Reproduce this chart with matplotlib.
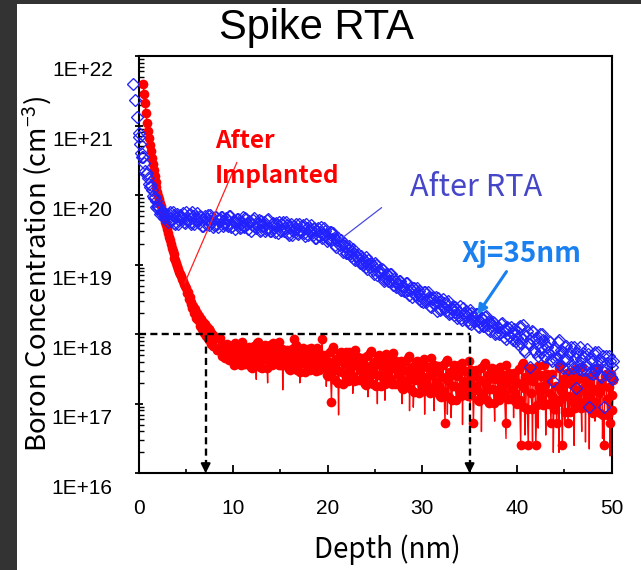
import numpy as np
import matplotlib
matplotlib.use("Agg")
import matplotlib.pyplot as plt
import matplotlib.patches as mpatches
from matplotlib import transforms as mtrans
from matplotlib.ticker import LogLocator, NullFormatter

plt.rcParams['font.family'] = ['Liberation Sans', 'DejaVu Sans']
plt.rcParams['mathtext.fontset'] = 'custom'
plt.rcParams['mathtext.rm'] = 'Noto Sans CJK JP'
plt.rcParams['mathtext.it'] = 'Noto Sans CJK JP'
plt.rcParams['mathtext.bf'] = 'Noto Sans CJK JP'
JP = ['Noto Sans CJK JP', 'DejaVu Sans']

# ---------------- data (log10 of boron concentration, cm^-3) ----------------
# After RTA (open diamonds), readings at -0.6 .. 50.2 nm (0.2 nm)
rta_depth_a = np.round(-0.6 + 0.2 * np.arange(255), 2)
rta_log10_a = [
    21.60, 21.37, 21.13, 20.90, 20.74, 20.55, 20.46, 20.31, 20.25, 20.12,
    20.08, 19.96, 19.92, 19.82, 19.81, 19.74, 19.74, 19.68, 19.71,
    19.73, 19.63, 19.76, 19.60, 19.69, 19.58, 19.72, 19.67, 19.61, 19.75,
    19.63, 19.73, 19.58, 19.70, 19.64, 19.74, 19.60, 19.68, 19.55, 19.70,
    19.65, 19.57, 19.71, 19.61, 19.57, 19.68, 19.54, 19.65, 19.69, 19.58,
    19.67, 19.57, 19.70, 19.54, 19.63, 19.51, 19.65, 19.60, 19.54, 19.68,
    19.56, 19.66, 19.51, 19.62, 19.57, 19.67, 19.52, 19.60, 19.48, 19.63,
    19.57, 19.49, 19.64, 19.53, 19.49, 19.60, 19.47, 19.57, 19.61, 19.50,
    19.59, 19.49, 19.62, 19.45, 19.54, 19.43, 19.56, 19.51, 19.45, 19.58,
    19.47, 19.57, 19.41, 19.53, 19.48, 19.57, 19.43, 19.51, 19.38, 19.53,
    19.47, 19.39, 19.53, 19.42, 19.37,
    19.47, 19.35, 19.45, 19.28, 19.35, 19.29, 19.35, 19.18, 19.27, 19.17,
    19.27, 19.16, 19.20, 19.08, 19.13, 19.15, 19.02, 19.09, 19.02, 19.11,
    18.94, 19.01, 19.03, 18.92, 19.02, 18.85, 18.92, 18.86, 18.93, 18.77,
    18.86, 18.76, 18.87, 18.76, 18.80, 18.68, 18.74, 18.76, 18.64, 18.70,
    18.64, 18.73, 18.57, 18.64, 18.67, 18.56, 18.66, 18.50, 18.57, 18.52,
    18.60, 18.47, 18.60, 18.40, 18.50, 18.44, 18.54, 18.34, 18.47, 18.36,
    18.50, 18.38, 18.43, 18.29, 18.37, 18.41, 18.27, 18.36, 18.28, 18.41,
    18.21, 18.31, 18.34, 18.21, 18.35, 18.15, 18.25, 18.19, 18.29, 18.10,
    18.23, 18.12, 18.25, 18.13, 18.19, 18.05, 18.13, 18.16, 18.02, 18.11,
    18.03, 18.16, 17.96, 18.06, 18.10, 17.97, 18.11, 17.91, 18.01, 17.95,
    18.10, 17.87, 18.13, 17.78, 17.97, 17.87, 17.53, 18.04, 17.77, 17.94,
    17.68, 18.01, 17.80, 17.91, 17.67, 17.82, 17.90, 17.65, 17.32, 17.80,
    17.67, 17.91, 17.56, 17.75, 17.65, 17.83, 17.50, 17.75, 17.56, 17.82,
    17.23, 17.73, 17.50, 17.65, 17.73, 17.48, 17.79, 16.96, 17.65, 17.43,
    17.71, 17.49, 17.75, 17.41, 17.60, 16.96, 17.69, 17.43, 17.61, 17.35,
    17.62,
]
# After RTA, interleaved readings at 0.1 .. 50.1 nm (0.2 nm)
rta_depth_b = np.round(0.1 + 0.2 * np.arange(251), 2)
rta_log10_b = [
    20.84, 20.60, 20.55, 20.35, 20.32, 20.16, 20.15, 19.98, 19.97, 19.83,
    19.84, 19.73, 19.77, 19.67, 19.73,
    19.62, 19.75, 19.66, 19.71, 19.58, 19.73, 19.64, 19.69, 19.74, 19.60,
    19.66, 19.71, 19.61, 19.75, 19.59, 19.68, 19.63, 19.70, 19.56, 19.65,
    19.59, 19.72, 19.62, 19.67, 19.54, 19.69, 19.59, 19.64, 19.69, 19.55,
    19.61, 19.66, 19.56, 19.70, 19.55, 19.63, 19.58, 19.65, 19.52, 19.61,
    19.54, 19.67, 19.58, 19.63, 19.49, 19.64, 19.54, 19.59, 19.64, 19.50,
    19.56, 19.61, 19.51, 19.65, 19.49, 19.58, 19.53, 19.60, 19.46, 19.55,
    19.49, 19.61, 19.52, 19.57, 19.43, 19.58, 19.49, 19.53, 19.58, 19.44,
    19.50, 19.55, 19.45, 19.58, 19.43, 19.51, 19.46, 19.53, 19.39, 19.48,
    19.41, 19.54, 19.44, 19.48, 19.34,
    19.37, 19.47, 19.37, 19.39, 19.26, 19.38, 19.28, 19.30, 19.31, 19.17,
    19.21, 19.23, 19.13, 19.23, 19.07, 19.13, 19.07, 19.13, 18.99, 19.05,
    18.97, 19.07, 18.97, 19.00, 18.87, 18.99, 18.89, 18.91, 18.94, 18.80,
    18.84, 18.86, 18.76, 18.87, 18.71, 18.77, 18.72, 18.77, 18.64, 18.70,
    18.62, 18.73, 18.63, 18.66, 18.53, 18.66, 18.57, 18.59, 18.62, 18.48,
    18.47, 18.61, 18.50, 18.54, 18.39, 18.54, 18.43, 18.47, 18.52, 18.35,
    18.41, 18.45, 18.34, 18.48, 18.30, 18.38, 18.32, 18.39, 18.23, 18.32,
    18.24, 18.38, 18.27, 18.31, 18.16, 18.31, 18.20, 18.24, 18.29, 18.12,
    18.19, 18.23, 18.12, 18.26, 18.08, 18.16, 18.10, 18.17, 18.01, 18.10,
    18.01, 18.15, 18.04, 18.08, 17.93, 18.09, 17.98, 18.02, 18.07, 17.90,
    17.86, 18.12, 17.93, 18.01, 17.75, 18.05, 17.86, 17.94, 18.03, 17.74,
    17.86, 17.94, 17.75, 18.01, 17.69, 17.85, 17.75, 17.89, 17.61, 17.78,
    17.63, 17.89, 17.70, 17.78, 17.52, 17.82, 17.64, 17.72, 17.81, 17.52,
    17.66, 17.74, 17.55, 17.81, 17.49, 17.67, 17.57, 17.71, 17.44, 17.61,
    17.48, 17.74, 17.55, 17.64, 17.38, 17.69, 17.50, 17.58, 17.68, 17.39,
    17.53,
]

# After implantation (filled circles): 0.5..8.0 nm (0.1 nm), 8.2..50.2 nm (0.2 nm)
imp_depth_a = np.round(np.concatenate([0.5 + 0.1 * np.arange(76),
                                       8.2 + 0.2 * np.arange(211)]), 2)
imp_log10_a = [
    21.60, 21.45, 21.32, 21.18, 21.04, 20.92, 20.82, 20.72, 20.63, 20.54,
    20.45, 20.36, 20.27, 20.19, 20.12, 20.05, 19.99, 19.94, 19.89, 19.84,
    19.79, 19.73, 19.68, 19.62, 19.57, 19.51, 19.46, 19.40, 19.35, 19.30,
    19.24, 19.19, 19.15, 19.10, 19.06, 19.02, 18.98, 18.94, 18.90, 18.87,
    18.83, 18.79, 18.76, 18.72, 18.69, 18.67, 18.59, 18.60, 18.50, 18.53,
    18.43, 18.47, 18.37, 18.41, 18.31, 18.36, 18.24, 18.31, 18.20, 18.26,
    18.12, 18.22, 18.07, 18.17, 18.02, 18.14, 17.98, 18.10, 17.95, 18.07,
    17.91, 18.04, 17.86, 18.01, 17.83, 17.97,
    17.94, 17.78, 17.94, 17.69, 17.80, 17.73, 17.86, 17.63, 17.78, 17.65,
    17.88, 17.66, 17.80, 17.55, 17.72, 17.81, 17.57, 17.76, 17.62, 17.52,
    17.83, 17.60, 17.89, 17.53, 17.74, 17.64, 17.85, 17.51, 17.78, 17.59,
    17.87, 17.66, 17.80, 17.55, 17.71, 17.79, 17.55, 17.73, 17.59, 17.48,
    17.79, 17.93, 17.84, 17.48, 17.69, 17.59, 17.80, 17.45, 17.72, 17.53,
    17.80, 17.59, 17.72, 17.47, 17.63, 17.72, 17.93, 17.66, 17.51, 17.40,
    17.75, 17.03, 17.81, 17.34, 17.60, 17.47, 17.75, 17.29, 17.64, 17.39,
    17.75, 17.48, 17.65, 17.32, 17.55, 17.67, 17.34, 17.60, 17.41, 17.27,
    17.69, 17.39, 17.76, 17.28, 17.55, 17.42, 17.70, 17.25, 17.59, 17.34,
    17.71, 17.44, 17.61, 17.28, 17.51, 17.62, 17.28, 17.54, 17.35, 17.21,
    17.62, 17.32, 17.68, 17.21, 17.47, 17.34, 17.61, 17.16, 17.50, 17.25,
    17.65, 17.33, 17.53, 17.16, 17.41, 17.55, 17.17, 17.45, 17.26, 17.09,
    17.56, 16.72, 17.63, 17.10, 17.41, 17.26, 17.56, 17.06, 17.45, 17.17,
    17.58, 17.27, 17.47, 17.11, 17.36, 17.49, 16.72, 17.40, 17.20, 17.04,
    17.51, 17.16, 17.58, 17.05, 17.36, 17.21, 17.51, 17.01, 17.40, 17.11,
    17.53, 17.22, 17.42, 16.72, 17.31, 17.44, 17.07, 17.35, 17.16, 17.00,
    17.50, 16.40, 17.59, 16.96, 17.33, 16.40, 17.51, 16.92, 17.38, 16.40,
    17.54, 17.17, 17.41, 16.98, 17.27, 17.43, 17.00, 16.72, 17.10, 16.92,
    16.72, 17.06, 17.55, 16.40, 17.29, 17.11, 16.72, 16.88, 17.34, 17.01,
    17.50, 17.13, 17.37, 16.94, 17.22, 17.39, 16.96, 17.29, 17.05, 16.87,
    17.41, 17.02, 17.51, 16.87, 17.24, 16.40, 17.43, 16.84, 16.72, 17.13,
    17.34,
]
# After implantation, interleaved readings at 8.3 .. 50.1 nm (0.2 nm)
imp_depth_b = np.round(8.3 + 0.2 * np.arange(210), 2)
imp_log10_b = [
    17.78, 17.94, 17.80, 17.84, 17.66, 17.85, 17.71, 17.76, 17.83,
    17.56, 17.70, 17.80, 17.60, 17.89, 17.57, 17.76, 17.66, 17.81, 17.53,
    17.72, 17.59, 17.87, 17.68, 17.78, 17.51, 17.83, 17.64, 17.74, 17.85,
    17.55, 17.70, 17.80, 17.60, 17.89, 17.56, 17.74, 17.64, 17.78, 17.50,
    17.68, 17.55, 17.82, 17.63, 17.73, 17.46, 17.78, 17.58, 17.68, 17.79,
    17.48, 17.63, 17.72, 17.52, 17.80, 17.48, 17.66, 17.56, 17.70, 17.41,
    17.60, 17.42, 17.78, 17.53, 17.65, 17.30, 17.73, 17.46, 17.59, 17.74,
    17.33, 17.53, 17.65, 17.40, 17.77, 17.34, 17.60, 17.47, 17.66, 17.29,
    17.54, 17.36, 17.73, 17.48, 17.60, 17.25, 17.68, 17.42, 17.54, 17.69,
    17.29, 17.49, 17.61, 17.36, 17.73, 17.29, 17.55, 17.41, 17.61, 17.23,
    17.48, 17.29, 17.66, 17.40, 17.53, 17.17, 17.60, 17.34, 17.46, 17.60,
    17.18, 17.39, 17.53, 17.24, 17.66, 17.18, 17.45, 17.31, 17.54, 17.11,
    17.39, 17.19, 17.60, 17.32, 17.46, 17.06, 17.54, 17.26, 17.40, 17.56,
    17.11, 17.33, 17.47, 17.19, 17.61, 17.12, 17.40, 17.26, 17.48, 17.06,
    17.34, 17.13, 17.55, 17.27, 17.41, 17.01, 17.49, 17.21, 17.35, 17.50,
    17.06, 17.28, 17.42, 17.14, 17.56, 17.07, 17.35, 17.21, 17.44, 17.02,
    17.30, 17.06, 17.56, 17.23, 17.39, 16.92, 17.48, 17.15, 17.32, 17.50,
    16.98, 17.24, 17.40, 17.07, 17.56, 17.00, 17.33, 17.16, 17.43, 16.92,
    17.25, 17.02, 17.52, 17.19, 17.35, 16.88, 17.44, 17.11, 17.28, 17.47,
    16.94, 17.20, 17.36, 17.03, 17.53, 16.96, 17.29, 17.12, 17.39, 16.88,
    17.21, 16.98, 17.48, 17.15, 17.30, 16.84, 17.40, 17.07, 17.24, 17.43,
    16.91,
]
# single low readings of the implanted profile (drawn by the line only)
imp_spike_depth = [12.45, 13.65, 15.25, 17.05, 19.85, 21.15, 22.65, 24.25,
                   25.25, 26.05, 27.85, 28.65, 29.05, 30.25, 31.25, 32.65,
                   33.05, 34.25, 35.05, 36.25, 37.65, 38.85, 39.65, 40.85,
                   41.65, 42.25, 43.05, 43.85, 44.45, 45.05, 46.05, 46.85,
                   47.25, 47.65, 48.25, 49.05, 49.85]
imp_spike_log10 = [17.35, 17.30, 17.20, 17.30, 17.25, 16.84, 17.15, 17.10,
                   17.00, 17.05, 17.00, 16.90, 16.95, 16.85, 16.90, 16.85,
                   16.80, 16.70, 16.95, 16.60, 16.75, 16.50, 16.80, 16.55,
                   16.45, 16.65, 16.55, 16.30, 16.30, 16.70, 16.40, 16.60,
                   16.45, 16.35, 16.75, 16.50, 16.25]

y_tick_values = [1e16, 1e17, 1e18, 1e19, 1e20, 1e21, 1e22]
y_tick_labels = ['1E+16', '1E+17', '1E+18', '1E+19', '1E+20', '1E+21', '1E+22']
x_tick_values = [0, 10, 20, 30, 40, 50]

level_1e18 = 1e18
xj_depth = 35.0
imp_depth_at_level = 7.1

# ---------------- figure ----------------
W, H = 641, 570
fig = plt.figure(figsize=(W / 100, H / 100), dpi=100)
fig.patch.set_facecolor('#333333')
fig.add_artist(mpatches.Rectangle((17 / W, 0), 1 - 17 / W, 1 - 4 / H,
                                  transform=fig.transFigure, facecolor='white',
                                  edgecolor='none', zorder=-10))

ax = fig.add_axes([138.5 / W, 1 - 473.3 / H, (611.5 - 138.5) / W, (473.3 - 56) / H])
ax.set_yscale('log')
ax.set_xlim(0, 50)
ax.set_ylim(1e16, 1e22)

# implanted: line through all readings (incl. spikes), markers on main readings
mark_d = np.concatenate([imp_depth_a, imp_depth_b])
mark_v = np.concatenate([imp_log10_a, imp_log10_b])
all_d = np.concatenate([mark_d, imp_spike_depth])
all_v = np.concatenate([mark_v, imp_spike_log10])
order = np.argsort(all_d, kind='stable')
ax.plot(all_d[order], 10 ** all_v[order], '-', color='#ff0000', lw=1.0,
        zorder=2, clip_on=False)
ax.plot(mark_d, 10 ** mark_v, 'o', color='#ff0000', ms=7,
        mew=0, ls='none', zorder=3, clip_on=False)

# after RTA
rta_d = np.concatenate([rta_depth_a, rta_depth_b])
rta_v = np.concatenate([rta_log10_a, rta_log10_b])
ax.plot(rta_d, 10 ** rta_v, 'D', ms=6.3, mfc='none',
        mec='#2222ff', mew=0.95, ls='none', zorder=4, clip_on=False)

# dashed guide lines
dash = (0, (3, 1.8))
ax.hlines(level_1e18, 0, xj_depth, colors='k', lw=1.7, linestyles=[dash], zorder=6)
for xd in (imp_depth_at_level, xj_depth):
    ax.vlines(xd, 1e16 * 1.25, level_1e18, colors='k', lw=1.7,
              linestyles=[dash], zorder=6)
    ax.annotate('', xy=(xd, 1e16), xytext=(xd, 10 ** 16.14),
                arrowprops=dict(arrowstyle='-|>', color='k', lw=1.5,
                                mutation_scale=14, shrinkA=0, shrinkB=0),
                zorder=7)

# annotations
ax.annotate('', xy=(4.9, 10 ** 18.74), xytext=(10.4, 10 ** 20.47),
            arrowprops=dict(arrowstyle='-', color='#ff2020', lw=0.9,
                            shrinkA=0, shrinkB=0), zorder=8)
ax.text(8.1, 10 ** 20.68, 'After', color='#ff0000', fontsize=17.5,
        fontweight='bold', family=JP, ha='left', va='baseline', zorder=9)
ax.text(8.1, 10 ** 20.18, 'Implanted', color='#ff0000', fontsize=17.5,
        fontweight='bold', family=JP, ha='left', va='baseline', zorder=9)

ax.annotate('', xy=(21.3, 10 ** 19.36), xytext=(25.7, 10 ** 19.82),
            arrowprops=dict(arrowstyle='-', color='#4a4ae0', lw=0.9,
                            shrinkA=0, shrinkB=0), zorder=8)
ax.text(28.7, 10 ** 19.98, 'After RTA', color='#4646c8', fontsize=22,
        family=JP, ha='left', va='baseline', zorder=9)

ax.annotate('', xy=(35.8, 10 ** 18.28), xytext=(38.9, 10 ** 18.9),
            arrowprops=dict(arrowstyle='-|>', color='#1a80f0', lw=2.2,
                            mutation_scale=14, shrinkA=0, shrinkB=0), zorder=8)
ax.text(34.2, 10 ** 19.04, 'Xj=35nm', color='#1a80f0', fontsize=20,
        fontweight='bold', family=JP, ha='left', va='baseline', zorder=9)

# axes styling
for s in ax.spines.values():
    s.set_linewidth(1.5)
    s.set_color('black')

ax.set_xticks(x_tick_values)
ax.set_xticks([5, 15, 25, 35, 45], minor=True)
ax.set_yticks(y_tick_values, labels=y_tick_labels)
ax.yaxis.set_minor_locator(LogLocator(base=10, subs=np.arange(2, 10), numticks=20))
ax.yaxis.set_minor_formatter(NullFormatter())

ax.tick_params(axis='x', which='major', direction='in', length=6, width=1.3,
               pad=18.5, labelsize=15)
ax.tick_params(axis='x', which='minor', direction='in', length=3, width=1.2)
ax.tick_params(axis='y', which='major', direction='inout', length=6, width=1.3,
               pad=15.5, labelsize=15)
ax.tick_params(axis='y', which='minor', direction='in', length=3.5, width=1.0)

offset = mtrans.ScaledTranslation(0, -13 / 100, fig.dpi_scale_trans)
for lbl in ax.get_yticklabels():
    lbl.set_transform(lbl.get_transform() + offset)

# titles / labels
fig.text(316 / W, 1 - 39 / H, 'Spike RTA', ha='center', va='baseline',
         fontsize=30, color='black')
fig.text(37 / W, 1 - 274 / H, 'Boron Concentration (cm$^{-3}$)', rotation=90,
         ha='center', va='center', fontsize=19.8, family=JP)
fig.text(387 / W, 1 - 558 / H, 'Depth (nm)', ha='center', va='baseline',
         fontsize=20, family=JP)

fig.savefig('out.png', dpi=100, facecolor=fig.get_facecolor())
